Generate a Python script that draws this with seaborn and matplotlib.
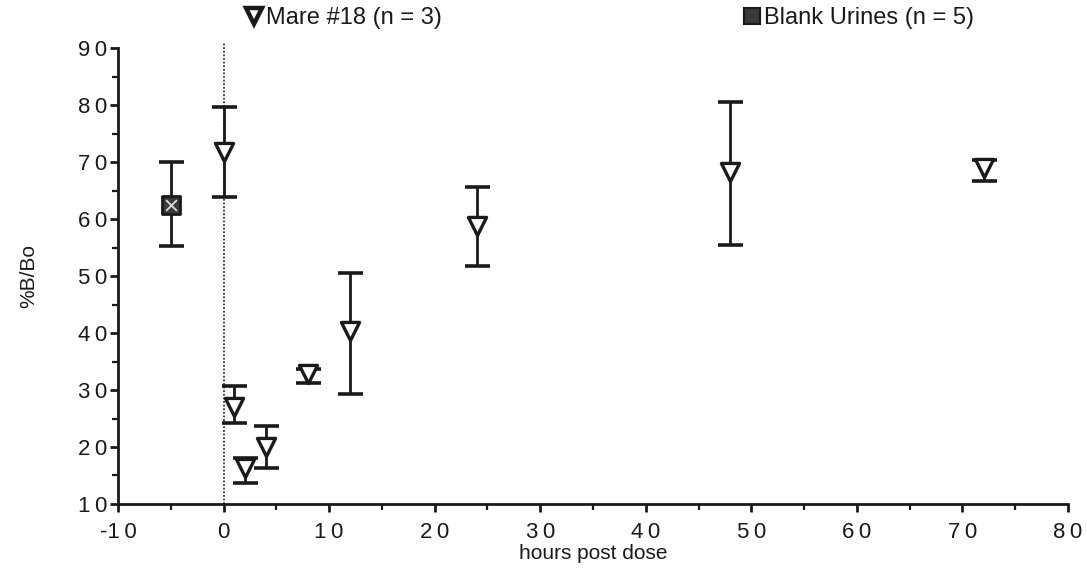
import numpy as np
import pandas as pd
import matplotlib
matplotlib.use("Agg")
import matplotlib.pyplot as plt
from matplotlib.lines import Line2D
from matplotlib.ticker import MultipleLocator, FixedLocator, FixedFormatter
import seaborn as sns

# ---- data ----
mare_hours = [0, 1, 2, 4, 8, 12, 24, 48, 72]
mare_mean = [71.8, 27.0, 16.3, 20.0, 32.8, 40.4, 58.8, 68.2, 69.0]
mare_upper = [79.6, 30.7, 18.0, 23.7, 33.6, 50.5, 65.6, 80.5, 70.3]
mare_lower = [63.9, 24.2, 13.7, 16.3, 31.2, 29.3, 51.8, 55.4, 66.7]

blank_hours = [-5]
blank_mean = [62.5]
blank_upper = [70.0]
blank_lower = [55.3]

xtick_values = [-10, 0, 10, 20, 30, 40, 50, 60, 70, 80]
xtick_labels = ["-1\u20090", "0", "1\u20090", "2\u20090", "3\u20090", "4\u20090", "5\u20090", "6\u20090", "7\u20090", "8\u20090"]
ytick_values = [10, 20, 30, 40, 50, 60, 70, 80, 90]
ytick_labels = ["1\u20090", "2\u20090", "3\u20090", "4\u20090", "5\u20090", "6\u20090", "7\u20090", "8\u20090", "9\u20090"]

series_mare = "Mare #18 (n = 3)"
series_blank = "Blank Urines (n = 5)"

# ---- style ----
sns.set_theme(style="ticks")
plt.rcParams["font.family"] = ["Liberation Sans", "DejaVu Sans"]

fig = plt.figure(figsize=(10.87, 5.72), dpi=100)
ax = fig.add_axes([0.1086, 0.1189, 0.8739, 0.7971])

mare_df = pd.DataFrame({"hours": mare_hours, "bbo": mare_mean})
blank_df = pd.DataFrame({"hours": blank_hours, "bbo": blank_mean})

# vertical dotted line at dose time
ax.axvline(0, ymax=1.01, color="#333333", lw=1.3, ls=(0, (1, 1)), zorder=1, clip_on=False)

# error bars
def draw_err(x, m, up, lo):
    m = np.array(m); up = np.array(up); lo = np.array(lo)
    ax.errorbar(x, m, yerr=[m - lo, up - m], fmt="none", ecolor="#1a1a1a",
                elinewidth=2.0, capsize=9, capthick=2.6, zorder=2)

draw_err(mare_hours, mare_mean, mare_upper, mare_lower)
draw_err(blank_hours, blank_mean, blank_upper, blank_lower)

# markers
sns.scatterplot(data=mare_df, x="hours", y="bbo", marker="v", s=170,
                facecolor="white", edgecolor="#1a1a1a", linewidth=2.4,
                ax=ax, zorder=3, legend=False)
sns.scatterplot(data=blank_df, x="hours", y="bbo", marker="s", s=160,
                facecolor="#3a3a3a", edgecolor="#1a1a1a", linewidth=2.0,
                ax=ax, zorder=3, legend=False)
sns.scatterplot(data=blank_df, x="hours", y="bbo", marker="x", s=60,
                color="#dddddd", linewidth=1.3, ax=ax, zorder=4, legend=False)

# axes
ax.set_xlim(-10, 80)
ax.set_ylim(10, 90)
ax.xaxis.set_major_locator(FixedLocator(xtick_values))
ax.xaxis.set_major_formatter(FixedFormatter(xtick_labels))
ax.xaxis.set_minor_locator(MultipleLocator(5))
ax.yaxis.set_major_locator(FixedLocator(ytick_values))
ax.yaxis.set_major_formatter(FixedFormatter(ytick_labels))
ax.yaxis.set_minor_locator(MultipleLocator(5))

for s in ["top", "right"]:
    ax.spines[s].set_visible(False)
for s in ["left", "bottom"]:
    ax.spines[s].set_linewidth(2.0)
    ax.spines[s].set_color("#1a1a1a")

ax.tick_params(axis="both", which="major", length=6, width=2, color="#1a1a1a",
               labelsize=16, labelcolor="#1a1a1a", direction="out")
ax.tick_params(axis="both", which="minor", length=4, width=1.6, color="#1a1a1a",
               direction="out")
ax.tick_params(axis="x", which="major", pad=7)
ax.tick_params(axis="y", which="major", pad=2)

ax.set_xlabel("hours post dose", fontsize=15, color="#1a1a1a", labelpad=1)
ax.set_ylabel("%B/Bo", fontsize=15, color="#1a1a1a", labelpad=28)

# legends at top
h1 = Line2D([], [], marker="v", ls="none", markersize=12, markerfacecolor="white",
            markeredgecolor="#1a1a1a", markeredgewidth=3.2)
h2 = Line2D([], [], marker="s", ls="none", markersize=11, markerfacecolor="#3a3a3a",
            markeredgecolor="#1a1a1a", markeredgewidth=1.5)
leg1 = fig.legend([h1], [series_mare], loc="center left", bbox_to_anchor=(0.212, 0.968),
                  frameon=False, fontsize=17, handletextpad=0.0, handlelength=1.0,
                  borderpad=0, labelcolor="#1a1a1a")
leg2 = fig.legend([h2], [series_blank], loc="center left", bbox_to_anchor=(0.670, 0.968),
                  frameon=False, fontsize=17, handletextpad=0.0, handlelength=1.0,
                  borderpad=0, labelcolor="#1a1a1a")

fig.savefig("out.png", dpi=100)
